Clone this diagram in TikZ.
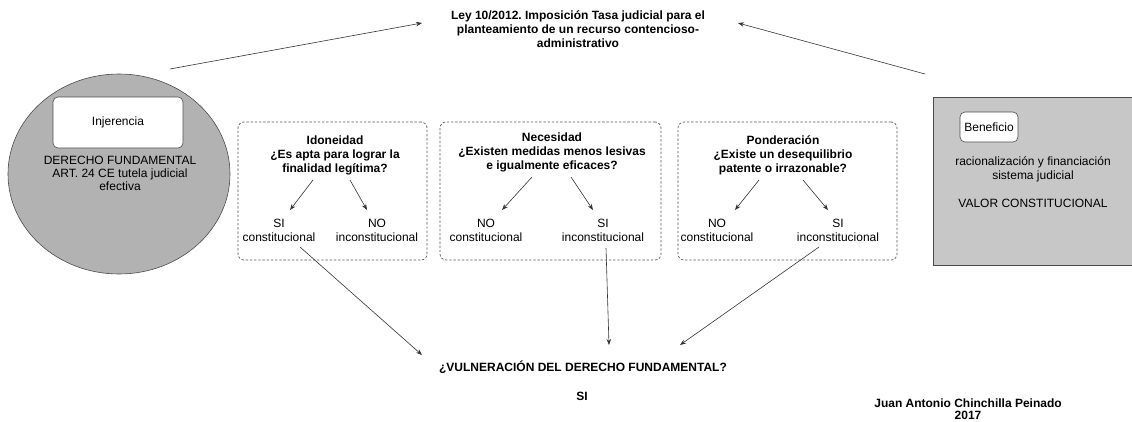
\documentclass[tikz,border=0pt]{standalone}
\usepackage{fontspec}
\setmainfont{Liberation Sans}
\usetikzlibrary{arrows.meta,shapes.geometric}
\frenchspacing
\begin{document}
\begin{tikzpicture}[x=1pt,y=-1pt,
  font=\fontsize{12}{13}\selectfont,
  arr/.style={draw=black!80, line width=0.6pt, -{Stealth[length=6pt,width=4.5pt]}},
  dbox/.style={draw=black!65, dash pattern=on 2.4pt off 1.8pt, rounded corners=6pt, line width=0.7pt, inner sep=0pt},
  txt/.style={align=center, inner sep=0pt},
  btxt/.style={align=center, inner sep=0pt, font=\bfseries\fontsize{12}{14}\selectfont},
  ans/.style={align=center, inner sep=0pt, font=\fontsize{12}{14}\selectfont},
  wbox/.style={draw=black!70, fill=white, line width=0.6pt, inner sep=0pt}
]
\useasboundingbox (0,0) rectangle (1132,421);

% title
\node[btxt] (title) at (578,29) {Ley 10/2012. Imposición Tasa judicial para el\\planteamiento de un recurso contencioso-\\administrativo};

% left circle
\node[ellipse, draw=black!70, fill=black!30, line width=0.6pt, minimum width=222pt, minimum height=200pt, inner sep=0pt] (circ) at (119,174) {};
\node[wbox, rounded corners=5pt, minimum width=130pt, minimum height=51pt] (inj) at (118,122.5) {Injerencia};
\node[txt] (df) at (120,173.5) {DERECHO FUNDAMENTAL\\ART. 24 CE tutela judicial\\efectiva};

% right gray box
\node[draw=black!70, fill=black!22, line width=0.6pt, anchor=north west, minimum width=210pt, minimum height=168pt, inner sep=0pt] (gb) at (933,97) {};
\node[wbox, rounded corners=5pt, minimum width=58pt, minimum height=30pt] (ben) at (989,127) {Beneficio};
\node[ans] (rac) at (1033,169.5) {racionalización y financiación\\sistema judicial};
\node[txt] (val) at (1033,203) {VALOR CONSTITUCIONAL};

% dashed boxes
\node[dbox, minimum width=189pt, minimum height=138pt] (b1) at (332.5,191) {};
\node[dbox, minimum width=221pt, minimum height=138pt] (b2) at (550.5,191) {};
\node[dbox, minimum width=219pt, minimum height=138pt] (b3) at (787.5,191) {};

\node[btxt] (q1) at (335,155.5) {Idoneidad\\¿Es apta para lograr la\\finalidad legítima?};
\node[btxt] (q2) at (552,152) {Necesidad\\¿Existen medidas menos lesivas\\e igualmente eficaces?};
\node[btxt] (q3) at (783,155) {Ponderación\\¿Existe un desequilibrio\\patente o irrazonable?};

\node[ans] (si1) at (279,230) {SI\\constitucional};
\node[ans] (no1) at (377,230) {NO\\inconstitucional};
\node[ans] (no2) at (486,230) {NO\\constitucional};
\node[ans] (si2) at (603,230) {SI\\inconstitucional};
\node[ans] (no3) at (717,230) {NO\\constitucional};
\node[ans] (si3) at (838,230) {SI\\inconstitucional};

\coordinate (q1a) at (313,180); \coordinate (q1b) at (350,180);
\coordinate (q2a) at (532,177); \coordinate (q2b) at (571,177);
\coordinate (q3a) at (759,180); \coordinate (q3b) at (803,180);
\coordinate (e1a) at (290,210); \coordinate (e1b) at (367,210);
\coordinate (e2a) at (502,210); \coordinate (e2b) at (593,210);
\coordinate (e3a) at (735,210); \coordinate (e3b) at (828,210);

\draw[arr] (q1a) -- (e1a);
\draw[arr] (q1b) -- (e1b);
\draw[arr] (q2a) -- (e2a);
\draw[arr] (q2b) -- (e2b);
\draw[arr] (q3a) -- (e3a);
\draw[arr] (q3b) -- (e3b);

% bottom
\node[btxt] (vul) at (583,367) {¿VULNERACIÓN DEL DERECHO FUNDAMENTAL?};
\node[btxt] (res) at (582,396) {SI};
\node[align=center, inner sep=0pt, font=\bfseries\fontsize{12}{12.5}\selectfont] (aut) at (968,409) {Juan Antonio Chinchilla Peinado\\2017};

\coordinate (s1) at (300,247); \coordinate (t1) at (422,355);
\coordinate (s2) at (606,248); \coordinate (t2) at (609,345);
\coordinate (s3) at (819,247); \coordinate (t3) at (680,345);
\draw[arr] (s1) -- (t1);
\draw[arr] (s2) -- (t2);
\draw[arr] (s3) -- (t3);

% top arrows
\coordinate (la) at (170,69); \coordinate (lt) at (422,23);
\coordinate (ra) at (925,74); \coordinate (rt) at (738,23);
\draw[arr] (la) -- (lt);
\draw[arr] (ra) -- (rt);
\end{tikzpicture}
\end{document}
